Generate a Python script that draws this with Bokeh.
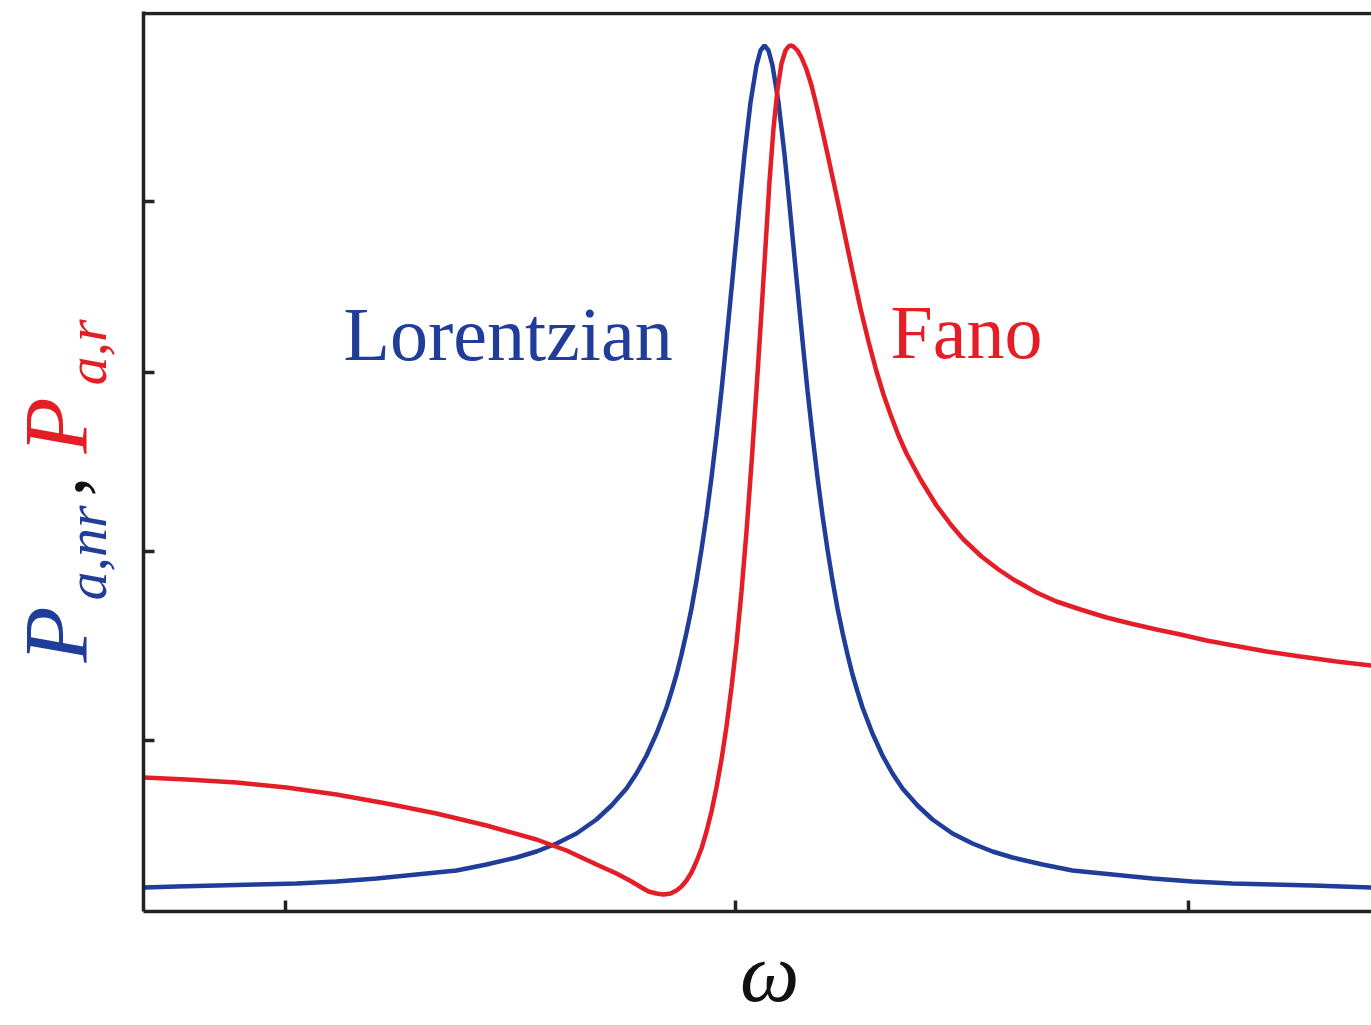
import math
from bokeh.plotting import figure
from bokeh.models import Label, Span, FixedTicker, Range1d
from bokeh.layouts import row, column
from bokeh.embed import file_html
from bokeh.resources import INLINE

# Data (omega offset, power)
lorentz_x = [-593, -560, -520, -480, -440, -400, -360, -320, -280, -250, -220, -200, -180, -160, -140, -125,
             -110, -100, -90, -80, -70, -65, -60, -55, -50, -45, -40, -35, -30, -25, -20, -15, -10, -4, 0, 4,
             8, 14, 20, 24, 28, 32, 36, 42, 48, 52, 56, 60, 66, 71, 76, 81, 86, 91, 96, 101, 106, 111, 116,
             121, 126, 136, 146, 156, 166, 181, 196, 216, 236, 256, 276, 306, 336, 376, 416, 456, 496, 536,
             576, 635]
lorentz_y = [24, 25, 26, 27, 28, 30, 33, 37, 41, 47, 54, 60, 68, 78, 92, 106,
             123, 138, 156, 178, 204, 220, 237, 257, 279, 303, 331, 362, 396, 434, 476, 521, 571, 633, 675, 717,
             757, 809, 846, 861, 866, 861, 846, 809, 757, 717, 675, 633, 571, 521, 476, 434, 396, 362, 331, 303, 279, 257, 237,
             220, 204, 178, 156, 138, 123, 106, 92, 78, 68, 60, 54, 47, 41, 37, 33, 30, 28, 27,
             26, 24]

fano_x = [-593, -550, -500, -450, -400, -350, -300, -250, -200, -170, -140, -120, -105, -95, -88, -80, -73,
          -66, -60, -55, -50, -45, -40, -35, -30, -25, -20, -15, -10, -5, 0, 5, 10, 15, 20, 25, 29, 33, 37,
          41, 45, 49, 52, 54, 57, 61, 65, 70, 75, 80, 86, 92, 100, 108, 116, 124, 132, 140, 147, 154, 162,
          170, 184, 200, 215, 227, 245, 262, 277, 300, 320, 344, 370, 394, 420, 444, 470, 497, 530, 564,
          600, 635]
fano_y = [134, 132, 129, 124, 117, 108, 98, 86, 72, 61, 47, 38, 30, 24, 20, 18, 17,
          18, 21, 25, 31, 39, 50, 63, 80, 100, 124, 152, 185, 224, 268, 320, 380, 448, 522, 600, 665, 730, 783,
          822, 848, 861, 865, 866, 865, 861, 854, 842, 826, 806, 780, 753, 716, 678, 640, 603, 570, 540, 517, 497, 476,
          458, 432, 406, 386, 372, 355, 342, 332, 319, 310, 302, 294, 288, 282, 277, 271, 266, 260, 255,
          250, 246]

x_ticks = [-451, -1, 452]
y_ticks = [171, 360, 539, 710]

BLUE = "#1f3d99"
RED = "#e41e26"
AX = "#222222"
INK = "#111111"
SERIF = "Liberation Serif"


def blank_fig(w, h, xr, yr):
    f = figure(width=w, height=h, x_range=xr, y_range=yr, output_backend="svg",
               toolbar_location=None, x_axis_type=None, y_axis_type=None,
               min_border=0, min_border_left=0, min_border_right=0,
               min_border_top=0, min_border_bottom=0)
    f.outline_line_color = None
    f.grid.visible = False
    f.background_fill_color = "white"
    f.border_fill_color = "white"
    return f


# main plot
p = figure(width=1251, height=925, x_range=(-593, 635), y_range=(0, 900),
           output_backend="svg", toolbar_location=None,
           min_border_left=23, min_border_right=0, min_border_top=11, min_border_bottom=14)
p.outline_line_color = None
p.grid.visible = False
p.background_fill_color = "white"
p.border_fill_color = "white"

for ax, ticks in ((p.xaxis, x_ticks), (p.yaxis, y_ticks)):
    ax.ticker = FixedTicker(ticks=ticks)
    ax.axis_line_width = 3.5
    ax.axis_line_color = AX
    ax.major_tick_line_width = 3.5
    ax.major_tick_line_color = AX
    ax.major_tick_in = 11
    ax.major_tick_out = 0
    ax.minor_tick_line_color = None
    ax.major_label_overrides = {t: "" for t in ticks}

p.add_layout(Span(location=898, dimension="width", line_color=AX, line_width=3.5))

p.line(lorentz_x, lorentz_y, line_color=BLUE, line_width=4.5)
p.line(fano_x, fano_y, line_color=RED, line_width=4.5)

p.add_layout(Label(x=-393, y=578, text="Lorentzian", text_font=SERIF, text_font_size="76px",
                   text_color=BLUE, text_align="left", text_baseline="alphabetic"))
p.add_layout(Label(x=154, y=580, text="Fano", text_font=SERIF, text_font_size="76px",
                   text_color=RED, text_align="left", text_baseline="alphabetic"))

# y-axis title strip (x = page px, y = page px from top)
ylab = blank_fig(120, 1025, Range1d(0, 120), Range1d(1025, 0))
rot = math.pi / 2
pieces = [
    ("P", 55, 662, "92px", "italic", BLUE),
    ("a,nr", 86, 600, "58px", "italic", BLUE),
    (",", 56, 496, "80px", "normal", INK),
    ("P", 55, 453, "92px", "italic", RED),
    ("a,r", 86, 385, "58px", "italic", RED),
]
for txt, cx, cy, size, style, col in pieces:
    ylab.add_layout(Label(x=cx, y=cy, text=txt, text_font=SERIF,
                          text_font_size=size, text_font_style=style, text_color=col, angle=rot,
                          text_align="left", text_baseline="alphabetic"))

# x-axis title strip (x = page px - 120, y = page px - 925)
xlab = blank_fig(1251, 100, Range1d(0, 1251), Range1d(100, 0))
xlab.add_layout(Label(x=638, y=47, text="ω", text_font=SERIF, text_font_size="84px",
                      text_font_style="italic", text_color=INK,
                      text_align="center", text_baseline="alphabetic"))

layout = row(ylab, column(p, xlab, spacing=0), spacing=0)

open("out.html", "w").write(file_html(layout, INLINE))
